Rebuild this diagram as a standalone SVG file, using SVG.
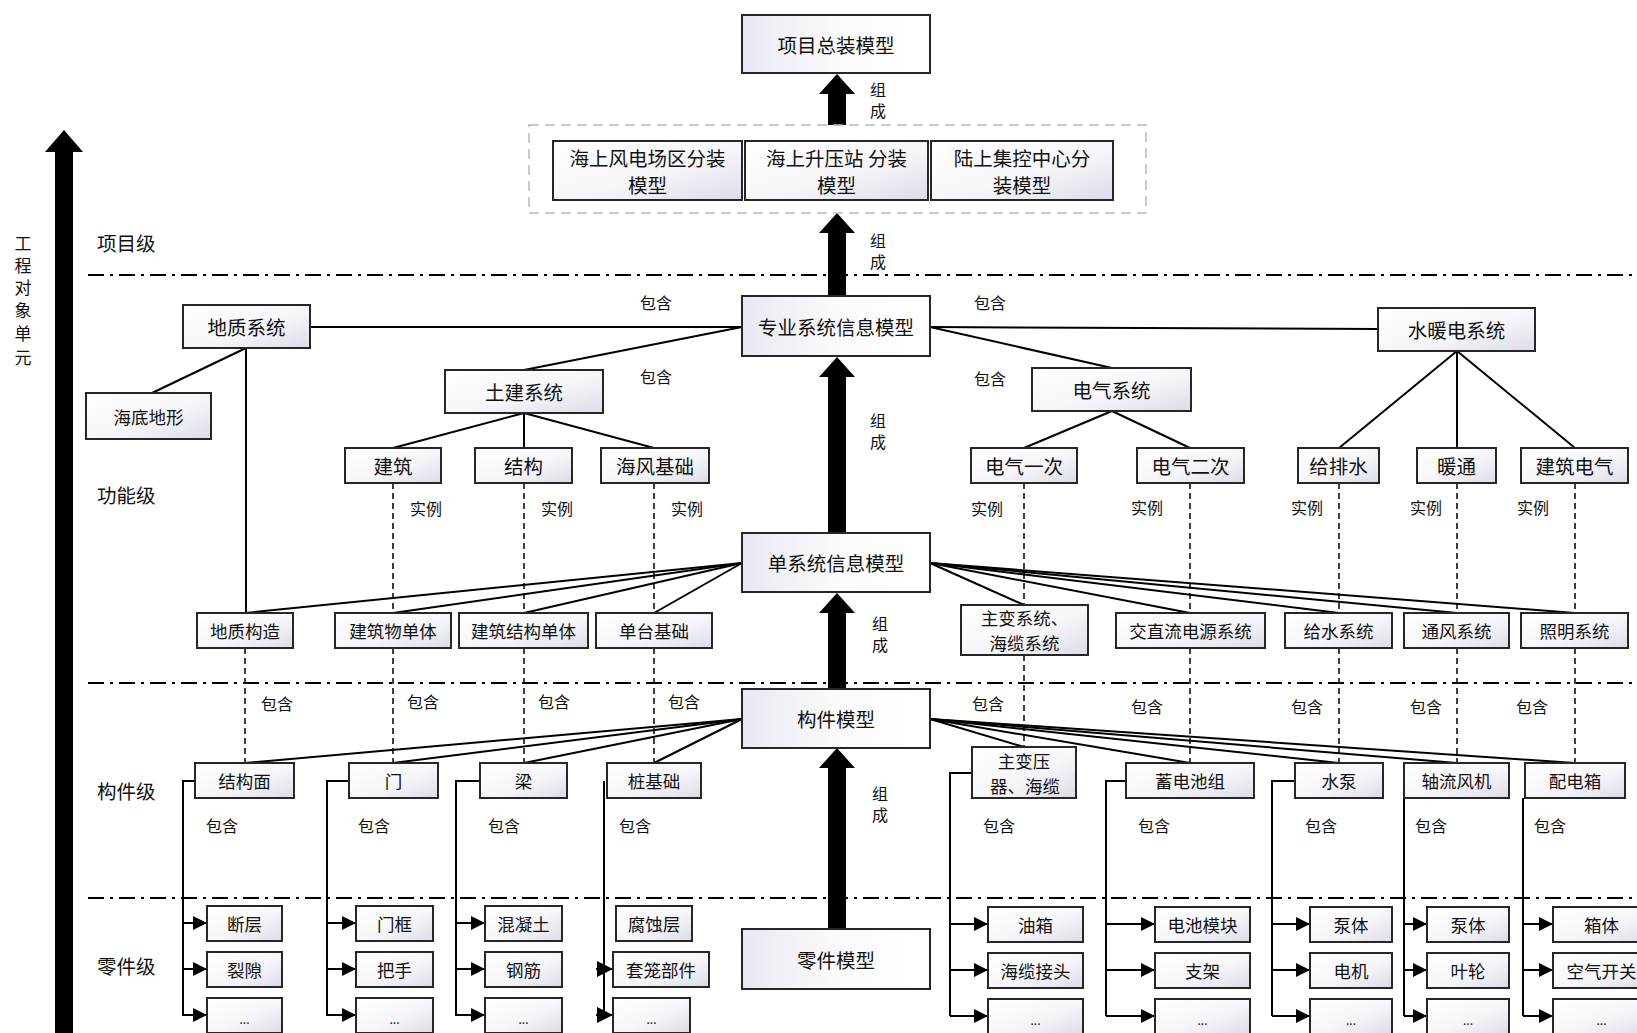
<svg xmlns="http://www.w3.org/2000/svg" width="1637" height="1033" viewBox="0 0 1637 1033">
<defs>
<linearGradient id="gs" x1="0" y1="0" x2="1" y2="1">
<stop offset="0" stop-color="#ffffff"/>
<stop offset="0.55" stop-color="#f6f6fa"/>
<stop offset="1" stop-color="#dcdce8"/>
</linearGradient>
<linearGradient id="gm" x1="0" y1="0" x2="1" y2="0">
<stop offset="0" stop-color="#e8e8f2"/>
<stop offset="0.5" stop-color="#fbfbfd"/>
<stop offset="1" stop-color="#ffffff"/>
</linearGradient>
<marker id="tri" viewBox="0 0 14 14" refX="14" refY="7" markerWidth="14" markerHeight="14" markerUnits="userSpaceOnUse" orient="auto">
<path d="M0,0 L14,7 L0,14 z" fill="#000"/>
</marker>
<marker id="tri2" viewBox="0 0 16 16" refX="16" refY="8" markerWidth="16" markerHeight="16" markerUnits="userSpaceOnUse" orient="auto">
<path d="M0,0 L16,8 L0,16 z" fill="#000"/>
</marker>
</defs>
<style>
.bx{fill:url(#gs);stroke:#262626;stroke-width:2}
.mb{fill:url(#gm);stroke:#262626;stroke-width:2}
.ln{stroke:#000;stroke-width:2;fill:none}
.tr{stroke:#000;stroke-width:2;fill:none}
.ta{stroke:#000;stroke-width:2;fill:none;marker-end:url(#tri)}
.tb{stroke:#000;stroke-width:2;fill:none;marker-end:url(#tri2)}
.dl{stroke:#000;stroke-width:1.5;stroke-dasharray:6 4;fill:none}
.sep{stroke:#000;stroke-width:2.2;stroke-dasharray:16 6 3 6;fill:none}
.grp{fill:none;stroke:#b8b8b8;stroke-width:1.5;stroke-dasharray:10 6}
.big{fill:#000}
text{font-family:"Noto Sans CJK SC","Noto Sans",sans-serif;fill:#111;text-anchor:middle;dominant-baseline:central}
.t19{font-size:19.5px}
.t17{font-size:17.5px}
.lb{font-size:16px}
.lv{font-size:19.5px;text-anchor:start}
.vt{font-size:17px}
.dots{font-size:12px}
</style>
<rect x="0" y="0" width="1637" height="1033" fill="#ffffff"/>

<!-- axis and level guides -->
<g id="axis">
<rect class="big" x="55" y="150" width="18" height="883"/>
<polygon class="big" points="45,152 64,130 83,152"/>
<text class="vt" x="23" y="242">工</text>
<text class="vt" x="23" y="264">程</text>
<text class="vt" x="23" y="286">对</text>
<text class="vt" x="23" y="309">象</text>
<text class="vt" x="23" y="332">单</text>
<text class="vt" x="23" y="356">元</text>
</g>
<g id="levels">
<line class="sep" x1="88" y1="275" x2="1637" y2="275"/>
<line class="sep" x1="88" y1="683" x2="1637" y2="683"/>
<line class="sep" x1="88" y1="898" x2="1637" y2="898"/>
<text class="lv" x="97" y="242">项目级</text>
<text class="lv" x="97" y="494">功能级</text>
<text class="lv" x="97" y="790">构件级</text>
<text class="lv" x="97" y="965">零件级</text>
</g>

<!-- connectors -->
<g id="connectors">
<!-- thick 组成 arrows -->
<polygon class="big" points="828,125 828,94 819,94 837,74 855,94 846,94 846,125"/>
<polygon class="big" points="828,296 828,233 819,233 837,213 855,233 846,233 846,296"/>
<polygon class="big" points="828,533 828,377 819,377 837,357 855,377 846,377 846,533"/>
<polygon class="big" points="828,689 828,613 819,613 837,593 855,613 846,613 846,689"/>
<polygon class="big" points="828,929 828,768 819,768 837,748 855,768 846,768 846,929"/>
<!-- functional level -->
<line class="ln" x1="742" y1="327" x2="310" y2="327"/>
<line class="ln" x1="742" y1="327" x2="524" y2="370"/>
<line class="ln" x1="246" y1="348" x2="152" y2="393"/>
<line class="ln" x1="246" y1="348" x2="246" y2="613"/>
<line class="ln" x1="524" y1="413" x2="393" y2="448"/>
<line class="ln" x1="524" y1="413" x2="524" y2="448"/>
<line class="ln" x1="524" y1="413" x2="654" y2="448"/>
<line class="ln" x1="930" y1="327" x2="1378" y2="329"/>
<line class="ln" x1="930" y1="327" x2="1112" y2="368"/>
<line class="ln" x1="1112" y1="411" x2="1024" y2="448"/>
<line class="ln" x1="1112" y1="411" x2="1190" y2="448"/>
<line class="ln" x1="1457" y1="351" x2="1339" y2="448"/>
<line class="ln" x1="1457" y1="351" x2="1457" y2="448"/>
<line class="ln" x1="1457" y1="351" x2="1575" y2="448"/>
<!-- single system fan -->
<line class="ln" x1="742" y1="563" x2="245" y2="613"/>
<line class="ln" x1="742" y1="563" x2="393" y2="613"/>
<line class="ln" x1="742" y1="563" x2="524" y2="613"/>
<line class="ln" x1="742" y1="563" x2="654" y2="613"/>
<line class="ln" x1="930" y1="563" x2="1024" y2="605"/>
<line class="ln" x1="930" y1="563" x2="1190" y2="613"/>
<line class="ln" x1="930" y1="563" x2="1339" y2="613"/>
<line class="ln" x1="930" y1="563" x2="1457" y2="613"/>
<line class="ln" x1="930" y1="563" x2="1575" y2="613"/>
<!-- component fan -->
<line class="ln" x1="742" y1="719" x2="245" y2="763"/>
<line class="ln" x1="742" y1="719" x2="393" y2="763"/>
<line class="ln" x1="742" y1="719" x2="524" y2="763"/>
<line class="ln" x1="742" y1="719" x2="654" y2="763"/>
<line class="ln" x1="930" y1="719" x2="1024" y2="747"/>
<line class="ln" x1="930" y1="719" x2="1190" y2="763"/>
<line class="ln" x1="930" y1="719" x2="1339" y2="763"/>
<line class="ln" x1="930" y1="719" x2="1457" y2="763"/>
<line class="ln" x1="930" y1="719" x2="1575" y2="763"/>
<!-- instance dashed lines -->
<line class="dl" x1="393" y1="483" x2="393" y2="613"/>
<line class="dl" x1="524" y1="483" x2="524" y2="613"/>
<line class="dl" x1="654" y1="483" x2="654" y2="613"/>
<line class="dl" x1="1024" y1="483" x2="1024" y2="605"/>
<line class="dl" x1="1190" y1="483" x2="1190" y2="613"/>
<line class="dl" x1="1339" y1="483" x2="1339" y2="613"/>
<line class="dl" x1="1457" y1="483" x2="1457" y2="613"/>
<line class="dl" x1="1575" y1="483" x2="1575" y2="613"/>
<line class="dl" x1="245" y1="648" x2="245" y2="763"/>
<line class="dl" x1="393" y1="648" x2="393" y2="763"/>
<line class="dl" x1="524" y1="648" x2="524" y2="763"/>
<line class="dl" x1="654" y1="648" x2="654" y2="763"/>
<line class="dl" x1="1024" y1="655" x2="1024" y2="747"/>
<line class="dl" x1="1190" y1="648" x2="1190" y2="763"/>
<line class="dl" x1="1339" y1="648" x2="1339" y2="763"/>
<line class="dl" x1="1457" y1="648" x2="1457" y2="763"/>
<line class="dl" x1="1575" y1="648" x2="1575" y2="763"/>
<!-- part trees, left -->
<polyline class="tr" points="195,781 183,781 183,1016"/>
<line class="ta" x1="183" y1="923" x2="207" y2="923"/>
<line class="ta" x1="183" y1="969" x2="207" y2="969"/>
<line class="ta" x1="183" y1="1015" x2="207" y2="1015"/>
<polyline class="tr" points="349,781 327,781 327,1016"/>
<line class="ta" x1="327" y1="923" x2="356" y2="923"/>
<line class="ta" x1="327" y1="969" x2="356" y2="969"/>
<line class="ta" x1="327" y1="1015" x2="356" y2="1015"/>
<polyline class="tr" points="480,781 456,781 456,1016"/>
<line class="ta" x1="456" y1="923" x2="485" y2="923"/>
<line class="ta" x1="456" y1="969" x2="485" y2="969"/>
<line class="ta" x1="456" y1="1015" x2="485" y2="1015"/>
<line class="tr" x1="604" y1="781" x2="604" y2="1016"/>
<line class="tb" x1="596" y1="969" x2="613" y2="969"/>
<line class="tb" x1="596" y1="1015" x2="613" y2="1015"/>
<!-- part trees, right -->
<polyline class="tr" points="972,773 950,773 950,1016"/>
<line class="ta" x1="950" y1="924" x2="988" y2="924"/>
<line class="ta" x1="950" y1="970" x2="988" y2="970"/>
<line class="ta" x1="950" y1="1016" x2="988" y2="1016"/>
<polyline class="tr" points="1126,781 1106,781 1106,1016"/>
<line class="ta" x1="1106" y1="924" x2="1155" y2="924"/>
<line class="ta" x1="1106" y1="970" x2="1155" y2="970"/>
<line class="ta" x1="1106" y1="1016" x2="1155" y2="1016"/>
<polyline class="tr" points="1295,781 1272,781 1272,1016"/>
<line class="ta" x1="1272" y1="924" x2="1310" y2="924"/>
<line class="ta" x1="1272" y1="970" x2="1310" y2="970"/>
<line class="ta" x1="1272" y1="1016" x2="1310" y2="1016"/>
<line class="tr" x1="1404" y1="798" x2="1404" y2="1016"/>
<line class="ta" x1="1404" y1="924" x2="1427" y2="924"/>
<line class="ta" x1="1404" y1="970" x2="1427" y2="970"/>
<line class="ta" x1="1404" y1="1016" x2="1427" y2="1016"/>
<line class="tr" x1="1523" y1="798" x2="1523" y2="1016"/>
<line class="ta" x1="1523" y1="924" x2="1553" y2="924"/>
<line class="ta" x1="1523" y1="970" x2="1553" y2="970"/>
<line class="ta" x1="1523" y1="1016" x2="1553" y2="1016"/>
</g>

<!-- relation labels -->
<g id="labels">
<text class="lb" x="878" y="89">组</text><text class="lb" x="878" y="110">成</text>
<text class="lb" x="878" y="240">组</text><text class="lb" x="878" y="261">成</text>
<text class="lb" x="878" y="420">组</text><text class="lb" x="878" y="441">成</text>
<text class="lb" x="880" y="623">组</text><text class="lb" x="880" y="644">成</text>
<text class="lb" x="880" y="793">组</text><text class="lb" x="880" y="814">成</text>
<text class="lb" x="656" y="302">包含</text>
<text class="lb" x="656" y="376">包含</text>
<text class="lb" x="990" y="302">包含</text>
<text class="lb" x="990" y="378">包含</text>
<text class="lb" x="426" y="508">实例</text>
<text class="lb" x="557" y="508">实例</text>
<text class="lb" x="687" y="508">实例</text>
<text class="lb" x="987" y="508">实例</text>
<text class="lb" x="1147" y="507">实例</text>
<text class="lb" x="1307" y="507">实例</text>
<text class="lb" x="1426" y="507">实例</text>
<text class="lb" x="1533" y="507">实例</text>
<text class="lb" x="277" y="703">包含</text>
<text class="lb" x="423" y="701">包含</text>
<text class="lb" x="554" y="701">包含</text>
<text class="lb" x="684" y="701">包含</text>
<text class="lb" x="988" y="703">包含</text>
<text class="lb" x="1147" y="706">包含</text>
<text class="lb" x="1307" y="706">包含</text>
<text class="lb" x="1426" y="706">包含</text>
<text class="lb" x="1532" y="706">包含</text>
<text class="lb" x="222" y="825">包含</text>
<text class="lb" x="374" y="825">包含</text>
<text class="lb" x="504" y="825">包含</text>
<text class="lb" x="635" y="825">包含</text>
<text class="lb" x="999" y="825">包含</text>
<text class="lb" x="1154" y="825">包含</text>
<text class="lb" x="1321" y="825">包含</text>
<text class="lb" x="1431" y="825">包含</text>
<text class="lb" x="1550" y="825">包含</text>
</g>

<!-- project level -->
<g id="n-top"><rect class="mb" x="742" y="15" width="188" height="58"/><text class="t19" x="836" y="44">项目总装模型</text></g>
<g id="n-group"><rect class="grp" x="529" y="125" width="617" height="88"/></g>
<g id="n-wind"><rect class="bx" x="553" y="141" width="189" height="59"/><text class="t19" x="647.5" y="157">海上风电场区分装</text><text class="t19" x="647.5" y="184">模型</text></g>
<g id="n-sub"><rect class="bx" x="745" y="141" width="183" height="59"/><text class="t19" x="836.5" y="157">海上升压站 分装</text><text class="t19" x="836.5" y="184">模型</text></g>
<g id="n-land"><rect class="bx" x="931" y="141" width="182" height="59"/><text class="t19" x="1022" y="157">陆上集控中心分</text><text class="t19" x="1022" y="184">装模型</text></g>

<!-- model column -->
<g id="n-pro"><rect class="mb" x="742" y="296" width="188" height="60"/><text class="t19" x="836" y="326">专业系统信息模型</text></g>
<g id="n-single"><rect class="mb" x="742" y="533" width="188" height="59"/><text class="t19" x="836" y="562">单系统信息模型</text></g>
<g id="n-comp"><rect class="mb" x="742" y="689" width="188" height="59"/><text class="t19" x="836" y="718">构件模型</text></g>
<g id="n-part"><rect class="mb" x="742" y="929" width="188" height="60"/><text class="t19" x="836" y="959">零件模型</text></g>

<!-- functional level -->
<g id="n-geo"><rect class="bx" x="183" y="305" width="127" height="43"/><text class="t19" x="246.5" y="326.5">地质系统</text></g>
<g id="n-seabed"><rect class="bx" x="86" y="393" width="125" height="46"/><text class="t17" x="148.5" y="416">海底地形</text></g>
<g id="n-civil"><rect class="bx" x="445" y="370" width="158" height="43"/><text class="t19" x="524" y="391.5">土建系统</text></g>
<g id="n-arch"><rect class="bx" x="345" y="448" width="96" height="35"/><text class="t19" x="393" y="465.5">建筑</text></g>
<g id="n-struct"><rect class="bx" x="475" y="448" width="97" height="35"/><text class="t19" x="523.5" y="465.5">结构</text></g>
<g id="n-fdn"><rect class="bx" x="601" y="448" width="108" height="35"/><text class="t19" x="655" y="465.5">海风基础</text></g>
<g id="n-elec"><rect class="bx" x="1032" y="368" width="159" height="43"/><text class="t19" x="1111.5" y="389.5">电气系统</text></g>
<g id="n-e1"><rect class="bx" x="971" y="448" width="106" height="35"/><text class="t19" x="1024" y="465.5">电气一次</text></g>
<g id="n-e2"><rect class="bx" x="1137" y="448" width="107" height="35"/><text class="t19" x="1190.5" y="465.5">电气二次</text></g>
<g id="n-hvac"><rect class="bx" x="1378" y="308" width="157" height="43"/><text class="t19" x="1456.5" y="329.5">水暖电系统</text></g>
<g id="n-water"><rect class="bx" x="1298" y="448" width="81" height="35"/><text class="t19" x="1338.5" y="465.5">给排水</text></g>
<g id="n-heat"><rect class="bx" x="1417" y="448" width="79" height="35"/><text class="t19" x="1456.5" y="465.5">暖通</text></g>
<g id="n-belec"><rect class="bx" x="1521" y="448" width="107" height="35"/><text class="t19" x="1574.5" y="465.5">建筑电气</text></g>

<!-- single system row -->
<g id="n-geostruct"><rect class="bx" x="197" y="613" width="96" height="35"/><text class="t17" x="245" y="630.5">地质构造</text></g>
<g id="n-building"><rect class="bx" x="335" y="613" width="116" height="35"/><text class="t17" x="393" y="630.5">建筑物单体</text></g>
<g id="n-bstruct"><rect class="bx" x="459" y="613" width="129" height="35"/><text class="t17" x="523.5" y="630.5">建筑结构单体</text></g>
<g id="n-singlefdn"><rect class="bx" x="596" y="613" width="116" height="35"/><text class="t17" x="654" y="630.5">单台基础</text></g>
<g id="n-trans"><rect class="bx" x="961" y="605" width="127" height="50"/><text class="t17" x="1024.5" y="617">主变系统、</text><text class="t17" x="1024.5" y="642">海缆系统</text></g>
<g id="n-acdc"><rect class="bx" x="1116" y="613" width="149" height="35"/><text class="t17" x="1190.5" y="630.5">交直流电源系统</text></g>
<g id="n-ws"><rect class="bx" x="1285" y="613" width="107" height="35"/><text class="t17" x="1338.5" y="630.5">给水系统</text></g>
<g id="n-vent"><rect class="bx" x="1404" y="613" width="105" height="35"/><text class="t17" x="1456.5" y="630.5">通风系统</text></g>
<g id="n-light"><rect class="bx" x="1521" y="613" width="107" height="35"/><text class="t17" x="1574.5" y="630.5">照明系统</text></g>

<!-- component row -->
<g id="n-face"><rect class="bx" x="195" y="763" width="99" height="35"/><text class="t17" x="244.5" y="780.5">结构面</text></g>
<g id="n-door"><rect class="bx" x="349" y="763" width="89" height="35"/><text class="t17" x="393.5" y="780.5">门</text></g>
<g id="n-beam"><rect class="bx" x="480" y="763" width="87" height="35"/><text class="t17" x="523.5" y="780.5">梁</text></g>
<g id="n-pile"><rect class="bx" x="607" y="763" width="94" height="35"/><text class="t17" x="654" y="780.5">桩基础</text></g>
<g id="n-mtr"><rect class="bx" x="972" y="747" width="104" height="51"/><text class="t17" x="1024" y="760">主变压</text><text class="t17" x="1025" y="785">器、海缆</text></g>
<g id="n-batt"><rect class="bx" x="1126" y="763" width="128" height="35"/><text class="t17" x="1190" y="780.5">蓄电池组</text></g>
<g id="n-pump"><rect class="bx" x="1295" y="763" width="88" height="35"/><text class="t17" x="1339" y="780.5">水泵</text></g>
<g id="n-fan"><rect class="bx" x="1404" y="763" width="105" height="35"/><text class="t17" x="1456.5" y="780.5">轴流风机</text></g>
<g id="n-dist"><rect class="bx" x="1525" y="763" width="100" height="35"/><text class="t17" x="1575" y="780.5">配电箱</text></g>

<!-- part row, left -->
<g id="p-fault"><rect class="bx" x="207" y="906" width="75" height="35"/><text class="t17" x="244.5" y="923.5">断层</text></g>
<g id="p-crack"><rect class="bx" x="207" y="952" width="75" height="35"/><text class="t17" x="244.5" y="969.5">裂隙</text></g>
<g id="p-c1more"><rect class="bx" x="207" y="998" width="75" height="35"/><text class="dots" x="244.5" y="1018">...</text></g>
<g id="p-frame"><rect class="bx" x="356" y="906" width="77" height="35"/><text class="t17" x="394.5" y="923.5">门框</text></g>
<g id="p-handle"><rect class="bx" x="356" y="952" width="77" height="35"/><text class="t17" x="394.5" y="969.5">把手</text></g>
<g id="p-c2more"><rect class="bx" x="356" y="998" width="77" height="35"/><text class="dots" x="394.5" y="1018">...</text></g>
<g id="p-concrete"><rect class="bx" x="485" y="906" width="77" height="35"/><text class="t17" x="523.5" y="923.5">混凝土</text></g>
<g id="p-rebar"><rect class="bx" x="485" y="952" width="77" height="35"/><text class="t17" x="523.5" y="969.5">钢筋</text></g>
<g id="p-c3more"><rect class="bx" x="485" y="998" width="77" height="35"/><text class="dots" x="523.5" y="1018">...</text></g>
<g id="p-corr"><rect class="bx" x="616" y="906" width="76" height="35"/><text class="t17" x="654" y="923.5">腐蚀层</text></g>
<g id="p-cage"><rect class="bx" x="613" y="952" width="96" height="35"/><text class="t17" x="661" y="969.5">套笼部件</text></g>
<g id="p-c4more"><rect class="bx" x="613" y="998" width="77" height="35"/><text class="dots" x="651.5" y="1018">...</text></g>

<!-- part row, right -->
<g id="p-tank"><rect class="bx" x="988" y="907" width="95" height="35"/><text class="t17" x="1035.5" y="924.5">油箱</text></g>
<g id="p-joint"><rect class="bx" x="988" y="953" width="95" height="35"/><text class="t17" x="1035.5" y="970.5">海缆接头</text></g>
<g id="p-r1more"><rect class="bx" x="988" y="999" width="95" height="35"/><text class="dots" x="1035.5" y="1019">...</text></g>
<g id="p-module"><rect class="bx" x="1155" y="907" width="95" height="35"/><text class="t17" x="1202.5" y="924.5">电池模块</text></g>
<g id="p-rack"><rect class="bx" x="1155" y="953" width="95" height="35"/><text class="t17" x="1202.5" y="970.5">支架</text></g>
<g id="p-r2more"><rect class="bx" x="1155" y="999" width="95" height="35"/><text class="dots" x="1202.5" y="1019">...</text></g>
<g id="p-pbody"><rect class="bx" x="1310" y="907" width="82" height="35"/><text class="t17" x="1351" y="924.5">泵体</text></g>
<g id="p-motor"><rect class="bx" x="1310" y="953" width="82" height="35"/><text class="t17" x="1351" y="970.5">电机</text></g>
<g id="p-r3more"><rect class="bx" x="1310" y="999" width="82" height="35"/><text class="dots" x="1351" y="1019">...</text></g>
<g id="p-fbody"><rect class="bx" x="1427" y="907" width="82" height="35"/><text class="t17" x="1468" y="924.5">泵体</text></g>
<g id="p-impeller"><rect class="bx" x="1427" y="953" width="82" height="35"/><text class="t17" x="1468" y="970.5">叶轮</text></g>
<g id="p-r4more"><rect class="bx" x="1427" y="999" width="82" height="35"/><text class="dots" x="1468" y="1019">...</text></g>
<g id="p-box"><rect class="bx" x="1553" y="907" width="97" height="35"/><text class="t17" x="1601.5" y="924.5">箱体</text></g>
<g id="p-switch"><rect class="bx" x="1553" y="953" width="97" height="35"/><text class="t17" x="1601.5" y="970.5">空气开关</text></g>
<g id="p-r5more"><rect class="bx" x="1553" y="999" width="97" height="35"/><text class="dots" x="1601.5" y="1019">...</text></g>
</svg>
